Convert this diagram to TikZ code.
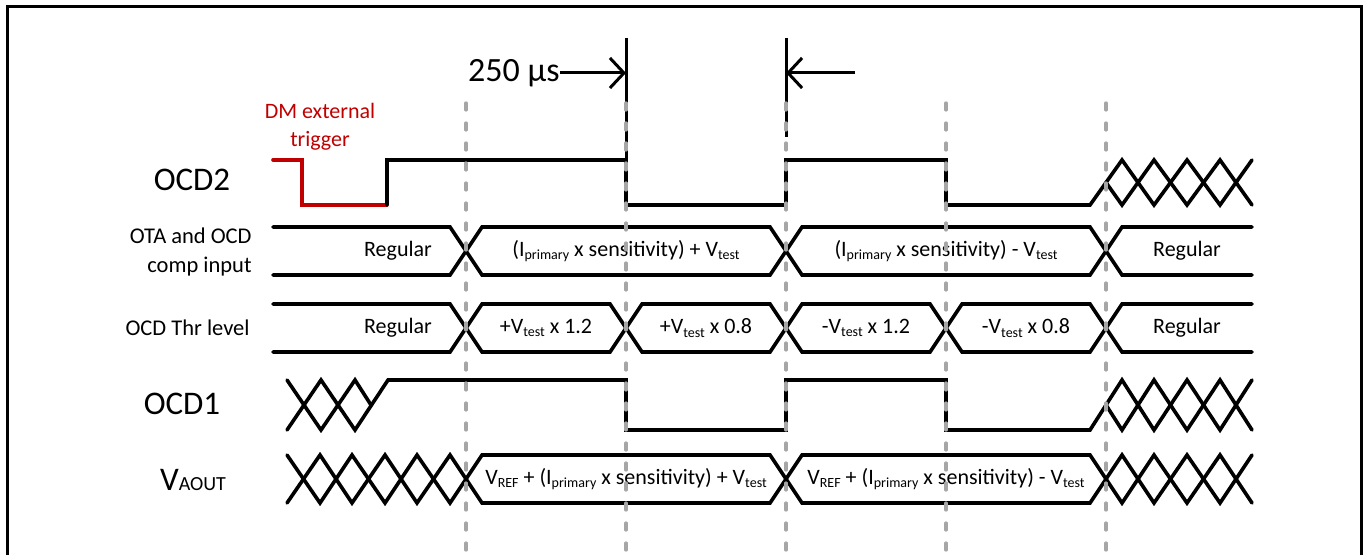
\documentclass[tikz,border=0pt]{standalone}
\usepackage{fontspec}
\setmainfont{Carlito}
\usetikzlibrary{arrows.meta}
\definecolor{trigred}{HTML}{C00000}
\definecolor{guide}{HTML}{A6A6A6}
% small lowered text for subscripts
\newcommand{\lowtxt}[1]{\raisebox{-0.35ex}{\fontsize{7}{8}\selectfont #1}}
\newcommand{\Vtest}{V\lowtxt{test}}
\newcommand{\Iprim}{I\lowtxt{primary}}

\begin{document}
\begin{tikzpicture}[x=0.5pt,y=-0.5pt,
  sig/.style={line width=1.8pt, line join=miter, line cap=round},
  frameline/.style={line width=1.5pt},
  guideline/.style={guide, line width=1.6pt, line cap=round, dash pattern=on 3.5pt off 6.5pt},
  marker/.style={line width=1.5pt},
  dim/.style={line width=1.5pt, -{Straight Barb[length=7pt,width=15pt,line width=1.5pt]}},
  biglabel/.style={font=\fontsize{16.5}{19}\selectfont, inner sep=0pt},
  smalllabel/.style={font=\fontsize{11.25}{14.5}\selectfont, inner sep=0pt, align=right},
  bustext/.style={font=\fontsize{11}{13}\selectfont, inner sep=0pt},
]
\useasboundingbox (0,0) rectangle (1368,555);

% outer frame (open at the bottom)
\draw[frameline] (7,555) -- (7,7) -- (1361,7) -- (1361,555);

% signal names
\node[biglabel] (nOCDtwo) at (192,180) {OCD2};
\node[smalllabel, anchor=east] (nOTA) at (252,252) {OTA and OCD\\comp input};
\node[smalllabel, anchor=east] (nThr) at (250,328) {OCD Thr level};
\node[biglabel] (nOCDone) at (182,404) {OCD1};
\node[biglabel, anchor=base] (nVout) at (193,490) {V{\fontsize{10}{12}\selectfont AOUT}};

% trigger annotation
\node[font=\fontsize{11}{14}\selectfont, text=trigred, align=center, inner sep=0pt] (ntrig) at (320,127) {DM external\\trigger};

% 250 us dimension
\node[font=\fontsize{17}{20}\selectfont, inner sep=0pt, anchor=east] (ndim) at (560,73) {250 µs};
\coordinate (tickA) at (626,73);
\coordinate (tickB) at (786,73);
\coordinate (dimEnd) at (855,73);
\draw[marker] (626,38) -- (626,160);
\draw[marker] (786,38) -- (786,137);
\draw[dim] (ndim.east) -- (tickA);
\draw[dim] (dimEnd) -- (tickB);

% OCD2
\draw[sig, trigred] (273,160) -- (302,160) -- (302,205) -- (387,205);
\draw[sig] (387,205) -- (387,160) -- (626,160) -- (626,205) -- (786,205) -- (786,160)
  -- (946,160) -- (946,205) -- (1090,205) -- (1122,160) -- (1154,205) -- (1187,160) -- (1220,205) -- (1252,160);
\draw[sig] (1106,182.5) -- (1122,205) -- (1154,160) -- (1187,205) -- (1220,160) -- (1252,205);

% OTA and OCD comp input bus
\draw[sig] (273,227) -- (450,227) -- (482,275) -- (770,275) -- (802,227) -- (1090,227) -- (1122,275) -- (1252,275);
\draw[sig] (273,275) -- (450,275) -- (482,227) -- (770,227) -- (802,275) -- (1090,275) -- (1122,227) -- (1252,227);
\node[bustext] (ota1) at (398,251) {Regular};
\node[bustext] (ota2) at (626,251) {(\Iprim{} x sensitivity) + \Vtest};
\node[bustext] (ota3) at (946,251) {(\Iprim{} x sensitivity) - \Vtest};
\node[bustext] (ota4) at (1187,251) {Regular};

% OCD threshold level bus
\draw[sig] (273,304) -- (450,304) -- (482,352) -- (610,352) -- (642,304) -- (770,304) -- (802,352)
  -- (930,352) -- (962,304) -- (1090,304) -- (1122,352) -- (1252,352);
\draw[sig] (273,352) -- (450,352) -- (482,304) -- (610,304) -- (642,352) -- (770,352) -- (802,304)
  -- (930,304) -- (962,352) -- (1090,352) -- (1122,304) -- (1252,304);
\node[bustext] (thr1) at (398,328) {Regular};
\node[bustext] (thr2) at (546,328) {+\Vtest{} x 1.2};
\node[bustext] (thr3) at (706,328) {+\Vtest{} x 0.8};
\node[bustext] (thr4) at (866,328) {-\Vtest{} x 1.2};
\node[bustext] (thr5) at (1026,328) {-\Vtest{} x 0.8};
\node[bustext] (thr6) at (1187,328) {Regular};

% OCD1
\draw[sig] (287,380) -- (321,430) -- (355,380) -- (371,405);
\draw[sig] (287,430) -- (321,380) -- (355,430) -- (388,380) -- (626,380) -- (626,430) -- (786,430)
  -- (786,380) -- (946,380) -- (946,430) -- (1090,430) -- (1122,380) -- (1154,430) -- (1187,380) -- (1220,430) -- (1252,380);
\draw[sig] (1106,405) -- (1122,430) -- (1154,380) -- (1187,430) -- (1220,380) -- (1252,430);

% VAOUT bus
\draw[sig] (287,455) -- (320,503) -- (352,455) -- (385,503) -- (417,455) -- (450,503) -- (482,455)
  -- (770,455) -- (802,503) -- (1090,503) -- (1122,455) -- (1154,503) -- (1187,455) -- (1220,503) -- (1252,455);
\draw[sig] (287,503) -- (320,455) -- (352,503) -- (385,455) -- (417,503) -- (450,455) -- (482,503)
  -- (770,503) -- (802,455) -- (1090,455) -- (1122,503) -- (1154,455) -- (1187,503) -- (1220,455) -- (1252,503);
\node[bustext] (vo1) at (626,479) {V\lowtxt{REF} + (\Iprim{} x sensitivity) + \Vtest};
\node[bustext] (vo2) at (946,479) {V\lowtxt{REF} + (\Iprim{} x sensitivity) - \Vtest};

% time guides
\foreach \gx in {466,626,786,946,1106}
  \draw[guideline] (\gx,103) -- (\gx,555);
\end{tikzpicture}
\end{document}
